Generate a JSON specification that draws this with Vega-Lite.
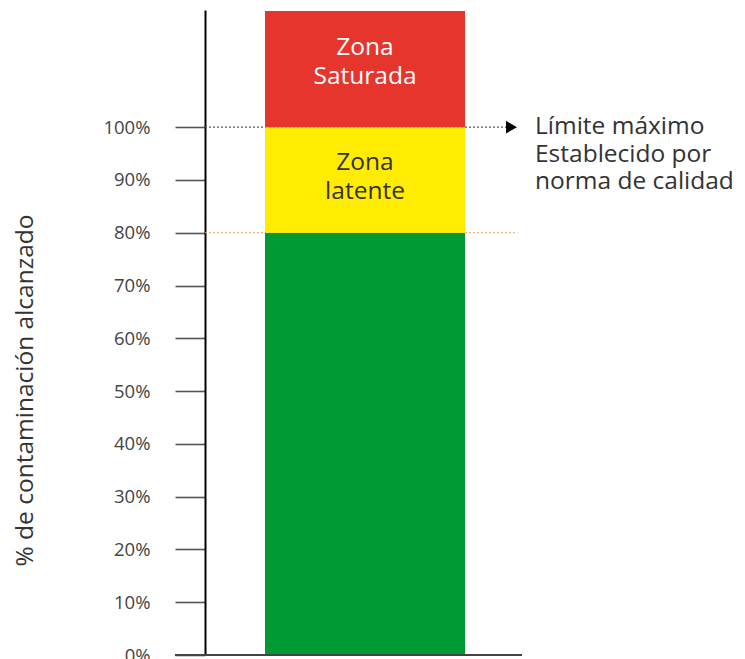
{
  "$schema": "https://vega.github.io/schema/vega-lite/v6.json",
  "width": 315,
  "height": 645,
  "autosize": "none",
  "padding": {"left": 205, "top": 10, "right": 225, "bottom": 4},
  "config": {"view": {"stroke": null}, "font": "Open Sans"},
  "datasets": {
    "zones": [
      {"zone": "Zona normal", "x0": 12, "x1": 52, "y0": 0, "y1": 80},
      {"zone": "Zona latente", "x0": 12, "x1": 52, "y0": 80, "y1": 100},
      {"zone": "Zona Saturada", "x0": 12, "x1": 52, "y0": 100, "y1": 122}
    ],
    "limits": [
      {"kind": "max", "x0": 0, "x1": 60.5, "y": 100},
      {"kind": "latent", "x0": 0, "x1": 62.5, "y": 80}
    ],
    "baseline": [{"x0": -6, "x1": 63.4, "y": 0}],
    "arrow": [{"x": 61.3, "y": 100}],
    "zoneLabels": [
      {"x": 32, "y": 115, "label": ["Zona", "Saturada"], "zone": "Zona Saturada"},
      {"x": 32, "y": 93.2, "label": ["Zona", "latente"], "zone": "Zona latente"}
    ],
    "note": [{"x": 66, "y": 100, "label": ["Límite máximo", "Establecido por", "norma de calidad"]}]
  },
  "layer": [
    {
      "data": {"name": "limits"},
      "mark": {"type": "rule", "strokeDash": [2, 2], "strokeWidth": 1.2, "clip": false},
      "encoding": {
        "x": {"field": "x0", "type": "quantitative", "scale": {"domain": [0, 63], "nice": false, "zero": false}, "axis": null},
        "x2": {"field": "x1"},
        "y": {"field": "y", "type": "quantitative", "scale": {"domain": [0, 122.2], "nice": false}},
        "color": {"field": "kind", "type": "nominal", "scale": {"domain": ["max", "latent"], "range": ["#555555", "#F4A04C"]}, "legend": null}
      }
    },
    {
      "data": {"name": "zones"},
      "mark": {"type": "bar"},
      "encoding": {
        "x": {"field": "x0", "type": "quantitative"},
        "x2": {"field": "x1"},
        "y": {
          "field": "y0", "type": "quantitative",
          "axis": {
            "values": [0, 10, 20, 30, 40, 50, 60, 70, 80, 90, 100],
            "labelExpr": "datum.value + '%'",
            "tickSize": 30, "tickColor": "#555555", "tickWidth": 1.6,
            "domainColor": "#000000", "domainWidth": 2,
            "labelPadding": 25, "labelFontSize": 18.5, "labelColor": "#444444",
            "labelFont": "Open Sans", "grid": false,
            "title": "% de contaminación alcanzado",
            "titleFont": "Open Sans", "titleFontSize": 24.5, "titleFontWeight": "normal",
            "titleColor": "#333333", "titleX": -180, "titleY": 380,
            "titleAngle": -90, "titleAlign": "center", "titleBaseline": "middle"
          }
        },
        "y2": {"field": "y1"},
        "color": {"field": "zone", "type": "nominal", "scale": {"domain": ["Zona normal", "Zona latente", "Zona Saturada"], "range": ["#009A35", "#FFEC00", "#E5352D"]}, "legend": null}
      }
    },
    {
      "data": {"name": "baseline"},
      "mark": {"type": "rule", "color": "#444444", "strokeWidth": 2, "clip": false},
      "encoding": {
        "x": {"field": "x0", "type": "quantitative"},
        "x2": {"field": "x1"},
        "y": {"field": "y", "type": "quantitative"}
      }
    },
    {
      "data": {"name": "arrow"},
      "mark": {"type": "point", "shape": "triangle-right", "filled": true, "color": "#000000", "size": 160, "opacity": 1, "clip": false},
      "encoding": {
        "x": {"field": "x", "type": "quantitative"},
        "y": {"field": "y", "type": "quantitative"}
      }
    },
    {
      "data": {"name": "zoneLabels"},
      "mark": {"type": "text", "fontSize": 24.5, "lineHeight": 29, "baseline": "middle", "align": "center", "font": "Open Sans"},
      "encoding": {
        "x": {"field": "x", "type": "quantitative"},
        "y": {"field": "y", "type": "quantitative"},
        "text": {"field": "label"},
        "color": {"field": "zone", "type": "nominal", "scale": {"domain": ["Zona Saturada", "Zona latente"], "range": ["#FFFFFF", "#333333"]}, "legend": null}
      }
    },
    {
      "data": {"name": "note"},
      "mark": {"type": "text", "fontSize": 24.5, "lineHeight": 27.5, "baseline": "middle", "align": "left", "color": "#333333", "font": "Open Sans", "clip": false},
      "encoding": {
        "x": {"field": "x", "type": "quantitative"},
        "y": {"field": "y", "type": "quantitative"},
        "text": {"field": "label"}
      }
    }
  ],
  "resolve": {"scale": {"color": "independent"}}
}
